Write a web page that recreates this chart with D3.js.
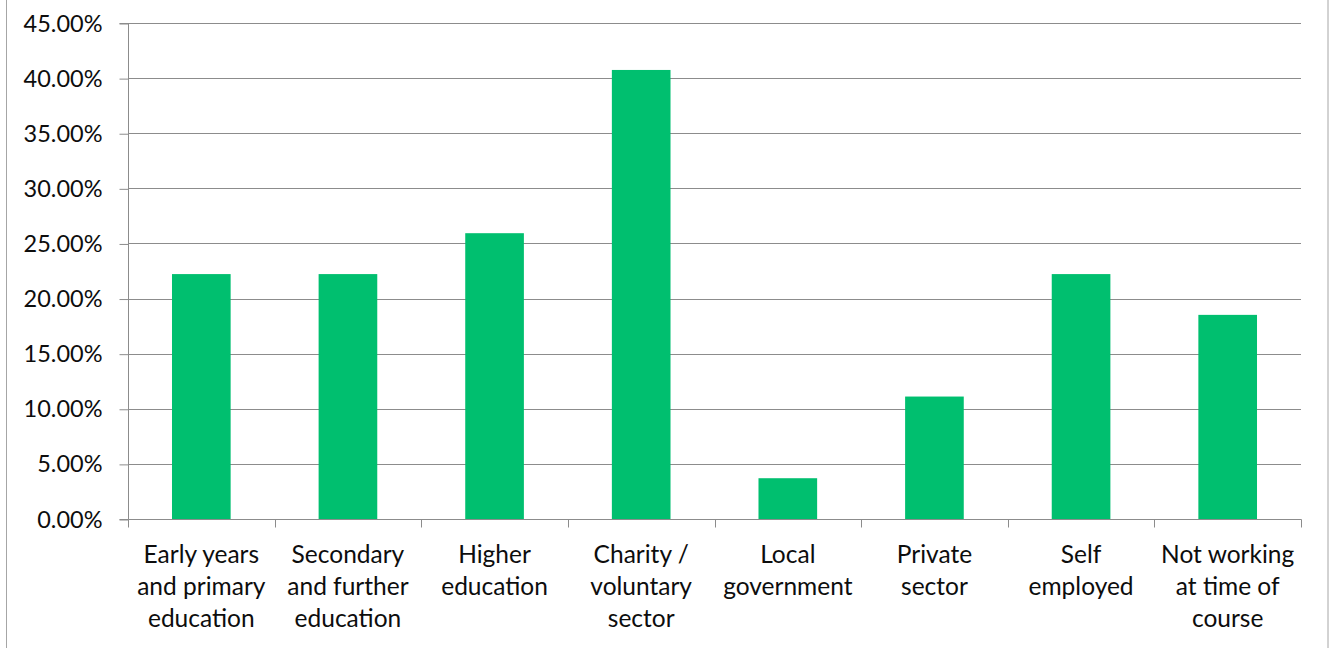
<!DOCTYPE html>
<html>
<head>
<meta charset="utf-8">
<script src="https://cdn.jsdelivr.net/npm/d3@7"></script>
<style>
  html, body { margin: 0; padding: 0; background: #fff; }
  svg { display: block; }
  text { font-family: Lato, "Open Sans", sans-serif; fill: #0d0d0d; }
</style>
</head>
<body>
<svg id="chart" width="1330" height="648"></svg>
<script>
// Share of participants by employment sector
const categories = [
  ["Early years", "and primary", "education"],
  ["Secondary", "and further", "education"],
  ["Higher", "education"],
  ["Charity /", "voluntary", "sector"],
  ["Local", "government"],
  ["Private", "sector"],
  ["Self", "employed"],
  ["Not working", "at time of", "course"]
];
const values = [0.2222, 0.2222, 0.2593, 0.4074, 0.0370, 0.1111, 0.2222, 0.1852];
const yTicks = [0, 0.05, 0.10, 0.15, 0.20, 0.25, 0.30, 0.35, 0.40, 0.45];

const W = 1330, H = 648;
const m = { left: 128, right: 1301, top: 23, bottom: 519 };
const svg = d3.select("#chart");

// outer frame
svg.append("rect")
  .attr("x", 6.5).attr("y", -2).attr("width", 1321.5).attr("height", H + 4)
  .attr("fill", "none").attr("stroke", "#a6a6a6").attr("stroke-width", 1);

const keys = categories.map((c, i) => i);
const x = d3.scaleBand().domain(keys).range([m.left, m.right])
  .paddingInner(0.6).paddingOuter(0.3);
const xStep = d3.scaleBand().domain(keys).range([m.left, m.right]).padding(0);
const y = d3.scaleLinear().domain([0, 0.45]).range([m.bottom, m.top]);

// horizontal gridlines
svg.append("g").selectAll("line").data(yTicks.filter(d => d > 0)).join("line")
  .attr("x1", m.left).attr("x2", m.right)
  .attr("y1", d => Math.round(y(d)) + 0.5).attr("y2", d => Math.round(y(d)) + 0.5)
  .attr("stroke", "#8c8c8c").attr("stroke-width", 1);

// bars
svg.append("g").selectAll("rect").data(values).join("rect")
  .attr("x", (d, i) => x(i))
  .attr("width", x.bandwidth())
  .attr("y", d => y(d))
  .attr("height", d => y(0) - y(d))
  .attr("fill", "#00bf6f");

// y axis
const yAxis = d3.axisLeft(y).tickValues(yTicks)
  .tickFormat(d => (d * 100).toFixed(2) + "%")
  .tickSize(9).tickPadding(17);
const gy = svg.append("g").attr("transform", `translate(${m.left + 0.5},0.5)`).call(yAxis);
gy.selectAll("path, line").attr("stroke", "#8c8c8c");
gy.select(".domain").attr("d", `M-9,${y(0.45)}H0V${y(0)}H-9`);
gy.selectAll("text").attr("font-size", 23.5).attr("font-family", "Lato, 'Open Sans', sans-serif").attr("fill", "#0d0d0d");

// x axis line with tick marks at category boundaries
const gx = svg.append("g").attr("transform", "translate(0.5,0.5)");
gx.append("line")
  .attr("x1", m.left).attr("x2", m.right)
  .attr("y1", Math.round(y(0))).attr("y2", Math.round(y(0)))
  .attr("stroke", "#8c8c8c");
const bounds = keys.map(i => xStep(i)).concat([m.right]);
gx.selectAll("line.tick").data(bounds).join("line").attr("class", "tick")
  .attr("x1", d => Math.round(d)).attr("x2", d => Math.round(d))
  .attr("y1", Math.round(y(0))).attr("y2", Math.round(y(0)) + 8)
  .attr("stroke", "#8c8c8c");

// category labels
const lbl = svg.append("g").selectAll("text").data(categories).join("text")
  .attr("text-anchor", "middle")
  .attr("font-size", 24.5)
  .attr("x", (d, i) => xStep(i) + xStep.bandwidth() / 2)
  .attr("y", 563);
lbl.selectAll("tspan").data(d => d).join("tspan")
  .attr("x", function() { return d3.select(this.parentNode).attr("x"); })
  .attr("dy", (d, i) => i === 0 ? 0 : 32)
  .text(d => d);
</script>
</body>
</html>
